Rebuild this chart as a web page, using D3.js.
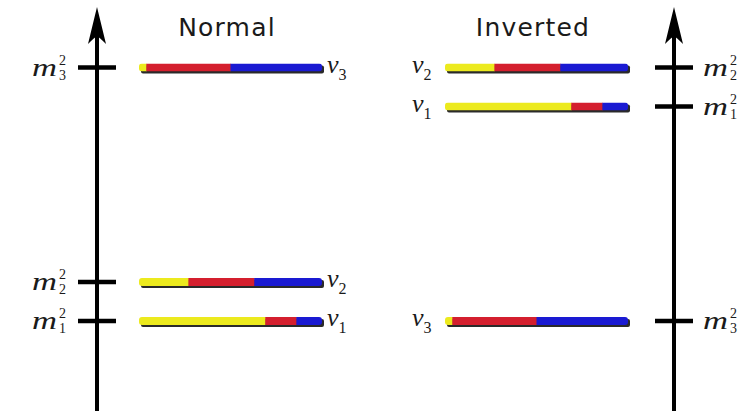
<!DOCTYPE html>
<html><head><meta charset="utf-8">
<script src="https://cdn.jsdelivr.net/npm/d3@7"></script>
<style>body{margin:0;background:#fff}svg{display:block}</style>
</head><body>
<script>
// Data
const states = ["1", "2", "3"];            // ν subscripts
const fracE   = [0.69, 0.27, 0.04];        // yellow
const fracMu  = [0.17, 0.36, 0.46];        // red
const fracTau = [0.14, 0.37, 0.50];        // blue
const massNormal   = [1.0, 2.0, 7.5];
const massInverted = [6.5, 7.5, 1.0];
const titles = ["Normal", "Inverted"];
const flavorColors = ["#ecea1e", "#d41f2e", "#1a1ad2"];

const W = 738, H = 411;
const svg = d3.select("body").append("svg").attr("width", W).attr("height", H);
const y = d3.scaleLinear().domain([0, 9]).range([360, 9]);
const xN = d3.scaleLinear().domain([0, 1]).range([139, 322]);
const xI = d3.scaleLinear().domain([0, 1]).range([445, 628]);

const mathFont = "'Liberation Serif', 'DejaVu Serif', serif";

function drawAxis(ax) {
  const g = svg.append("g");
  g.append("line").attr("x1", ax).attr("x2", ax).attr("y1", 30).attr("y2", H + 2)
    .attr("stroke", "#000").attr("stroke-width", 4);
  g.append("path")
    .attr("d", `M${ax},7 L${ax + 9},44 Q${ax + 2},37 ${ax},36 Q${ax - 2},37 ${ax - 9},44 Z`)
    .attr("fill", "#000");
  return g;
}
function tick(ax, m) {
  svg.append("line").attr("x1", ax - 19).attr("x2", ax + 19)
    .attr("y1", y(m)).attr("y2", y(m)).attr("stroke", "#000").attr("stroke-width", 4.5);
}
function mLabel(x, m, sub) {
  const yy = y(m);
  const g = svg.append("g").attr("font-family", mathFont).attr("fill", "#1a1a1a");
  g.append("text").attr("x", x).attr("y", yy + 8).attr("font-size", 26).attr("font-style", "italic")
    .attr("textLength", 25).attr("lengthAdjust", "spacingAndGlyphs").text("m");
  const t = g.append("text").attr("x", x + 27).attr("y", yy - 3).attr("font-size", 14);
  t.append("tspan").text("2");
  t.append("tspan").attr("x", x + 27).attr("dy", 15).text(sub);
}
function nuLabel(x, m, sub) {
  const yy = y(m);
  const g = svg.append("g").attr("font-family", mathFont).attr("fill", "#1a1a1a");
  const t = g.append("text").attr("x", x).attr("y", yy + 5);
  t.append("tspan").attr("font-size", 26).attr("font-style", "italic").text("ν");
  t.append("tspan").attr("font-size", 16).attr("dy", 7).text(sub);
}

const defs = svg.append("defs");
function bar(xs, m, i, id) {
  const yy = y(m);
  const x0 = xs(0), x1 = xs(1);
  svg.append("rect").attr("x", x0 + 2).attr("y", yy - 2).attr("width", x1 - x0)
    .attr("height", 8).attr("rx", 2).attr("fill", "#2a2a2a");
  defs.append("clipPath").attr("id", id).append("rect")
    .attr("x", x0).attr("y", yy - 4).attr("width", x1 - x0).attr("height", 8).attr("rx", 3);
  const fr = [fracE[i], fracMu[i], fracTau[i]];
  let acc = 0;
  const g = svg.append("g").attr("clip-path", `url(#${id})`);
  fr.forEach((f, k) => {
    g.append("rect").attr("x", xs(acc)).attr("y", yy - 4)
      .attr("width", xs(acc + f) - xs(acc) + (k < 2 ? 0.5 : 0)).attr("height", 8)
      .attr("fill", flavorColors[k]);
    acc += f;
  });
}

// Titles
titles.forEach((t, i) => {
  svg.append("text").attr("x", i === 0 ? 227 : 533).attr("y", 36).attr("text-anchor", "middle")
    .attr("font-family", "'DejaVu Sans', sans-serif").attr("font-size", 25).attr("fill", "#1a1a1a")
    .attr("letter-spacing", 1.2).text(t);
});

// Normal
drawAxis(97);
states.forEach((s, i) => {
  tick(97, massNormal[i]);
  mLabel(32, massNormal[i], s);
  bar(xN, massNormal[i], i, "cn" + i);
  nuLabel(327, massNormal[i], s);
});
// Inverted
drawAxis(674);
states.forEach((s, i) => {
  tick(674, massInverted[i]);
  mLabel(703, massInverted[i], s);
  bar(xI, massInverted[i], i, "ci" + i);
  nuLabel(412, massInverted[i], s);
});
</script>
</body></html>
